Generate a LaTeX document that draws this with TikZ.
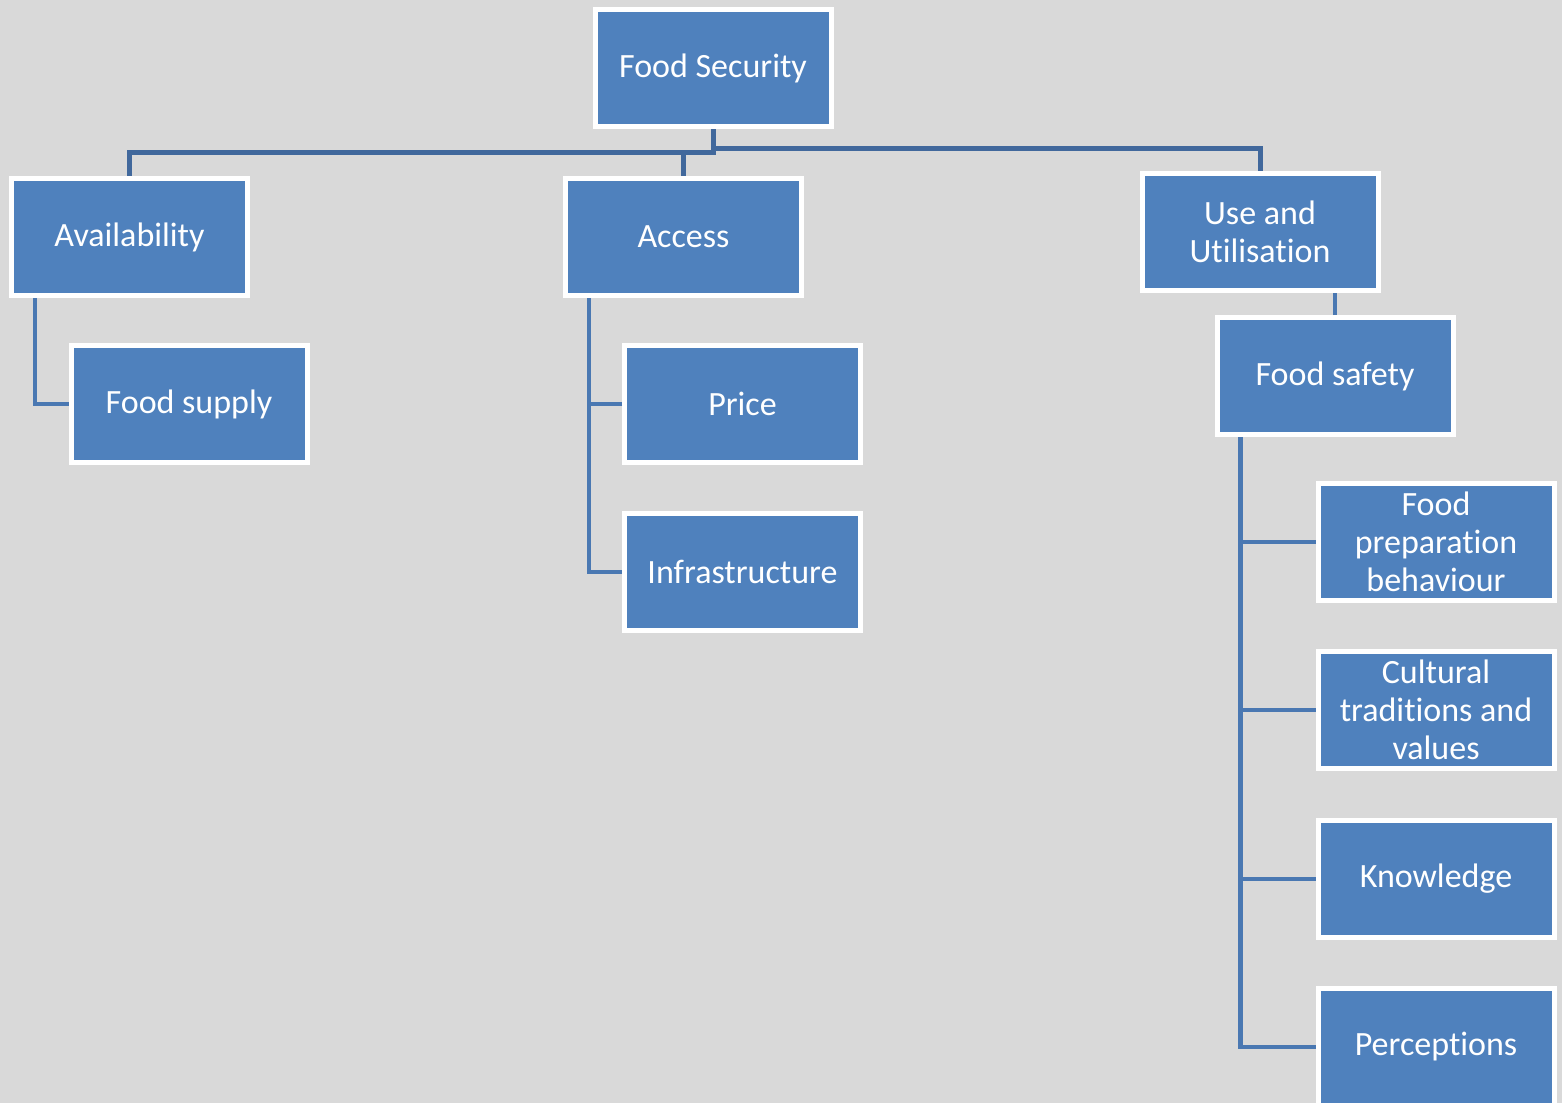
\documentclass[tikz,border=0pt]{standalone}
\usepackage{fontspec}
\setmainfont{Carlito}[RawFeature={-liga;-clig;-dlig;-calt}]
\usepackage{xcolor}
\usepackage{tikz}
\usetikzlibrary{positioning, calc}
\definecolor{boxblue}{HTML}{4F81BD}
\definecolor{bggray}{HTML}{D9D9D9}
\definecolor{topblue}{HTML}{41689C}
\definecolor{subblue}{HTML}{4A78B2}

\begin{document}
\begin{tikzpicture}[x=0.5pt, y=-0.5pt,
    item/.style={draw=white, line width=2.5pt, fill=boxblue, text=white,
        minimum width=118pt, minimum height=58.5pt, align=center, inner sep=2pt,
        font=\fontsize{17}{19}\selectfont},
    topline/.style={draw=topblue, line width=2.5pt},
    subline/.style={draw=subblue, line width=2.2pt}]

    % --- CANVAS ---
    % pixel grid: x to the right, y downward
    \fill[bggray] (0,0) rectangle (1562,1103);
    \useasboundingbox (0,0) rectangle (1562,1103);

    % --- TOP LEVEL ---
    \node[item] (fs) at (713,68) {Food Security};

    % --- SECOND LEVEL ---
    \node[item] (avail)   at (129.5,237) {Availability};
    \node[item] (access)  at (683.5,237) {Access};
    \node[item] (useutil) at (1260,232)  {Use and\\Utilisation};

    % --- AVAILABILITY BRANCH ---
    \node[item] (fsupply) at (189,404) {Food supply};

    % --- ACCESS BRANCH ---
    \node[item] (price) at (742.5,404) {Price};
    \node[item] (infra) at (742.5,572) {Infrastructure};

    % --- USE AND UTILISATION BRANCH ---
    \node[item] (fsafety)   at (1335,376) {Food safety};
    \node[item] (fprep)     at (1436,542) {Food\\preparation\\behaviour};
    \node[item] (cultural)  at (1436,710) {Cultural\\traditions and\\values};
    \node[item] (knowledge) at (1436,879) {Knowledge};
    \node[item] (percep)    at (1436,1047) {Perceptions};

    % --- CONNECTORS FROM THE TOP ---
    \draw[topline] (fs.south) -- ++(0,23) -| (avail.north);
    \draw[topline] (fs.south) ++(0,23) -| (access.north);
    \draw[topline] (fs.south) -- ++(0,19) -| (useutil.north);

    % --- BRANCH BARS ---
    \coordinate (availbar)  at ([xshift=13pt]avail.south west);
    \coordinate (accessbar) at ([xshift=13pt]access.south west);
    \coordinate (safebar)   at ([xshift=13pt]fsafety.south west);

    \draw[subline] (availbar) |- (fsupply.west);

    \draw[subline] (accessbar) |- (infra.west);
    \draw[subline] (price.west) -- (price.west -| accessbar);

    \draw[subline] (fsafety.north) -- (fsafety.north |- useutil.south);

    \draw[subline] (safebar) |- (percep.west);
    \foreach \n in {fprep, cultural, knowledge}
        \draw[subline] (\n.west) -- (\n.west -| safebar);

\end{tikzpicture}
\end{document}
